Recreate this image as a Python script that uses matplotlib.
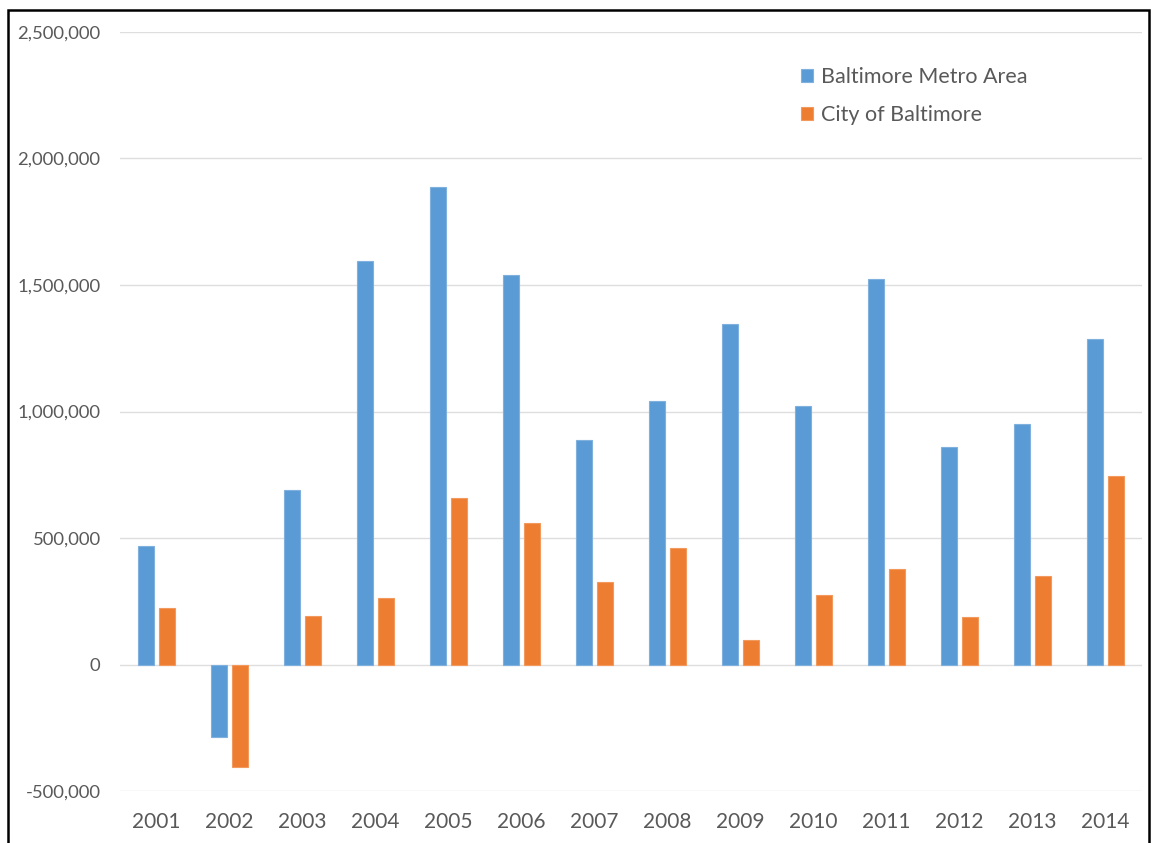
import matplotlib
matplotlib.use("Agg")
import matplotlib.pyplot as plt
import numpy as np
from matplotlib.patches import Rectangle
from matplotlib.ticker import FuncFormatter

years = ["2001", "2002", "2003", "2004", "2005", "2006", "2007",
         "2008", "2009", "2010", "2011", "2012", "2013", "2014"]
metro = [470000, -286000, 691000, 1596000, 1887000, 1540000, 886000,
         1043000, 1347000, 1023000, 1525000, 861000, 952000, 1288000]
city = [225000, -404000, 190000, 261000, 658000, 560000, 328000,
        461000, 95000, 273000, 379000, 186000, 348000, 747000]
series_names = ["Baltimore Metro Area", "City of Baltimore"]
yticks = [-500000, 0, 500000, 1000000, 1500000, 2000000, 2500000]

plt.rcParams['font.family'] = ['Lato', 'DejaVu Sans']
W, H = 1151, 843
fig = plt.figure(figsize=(W / 100, H / 100), dpi=100)
ax = fig.add_axes([120 / W, 1 - 791 / H, (1142 - 120) / W, (791 - 32) / H])

x = np.arange(len(years))
bw = 0.226
off = 0.141
ax.bar(x - off, metro, bw, color="#5B9BD5", edgecolor="#7FB0DE", linewidth=0.8,
       label=series_names[0], zorder=3)
ax.bar(x + off, city, bw, color="#ED7D31", edgecolor="#F29A5E", linewidth=0.8,
       label=series_names[1], zorder=3)

ax.set_xlim(-0.5, len(years) - 0.5)
ax.set_ylim(-500000, 2500000)
ax.set_yticks(yticks)
ax.yaxis.set_major_formatter(FuncFormatter(lambda v, p: f"{int(v):,}"))
ax.set_xticks(x)
ax.set_xticklabels(years)
ax.grid(axis="y", color="#DEDEDE", linewidth=1.0, zorder=0)
for s in ax.spines.values():
    s.set_visible(False)
ax.tick_params(axis="y", length=0, pad=14, labelsize=13.3, labelcolor="#595959")
ax.tick_params(axis="x", length=0, pad=15, labelsize=15, labelcolor="#595959")

leg = ax.legend(loc="upper left", bbox_to_anchor=(801 / W, 1 - 67 / H),
                bbox_transform=fig.transFigure, frameon=False,
                fontsize=15.5, handlelength=0.56, handleheight=0.56,
                handletextpad=0.37, labelspacing=0.83, borderaxespad=0,
                borderpad=0)
for t in leg.get_texts():
    t.set_color("#595959")

fig.add_artist(Rectangle((8 / W, -0.05), (1149 - 8) / W, 1.05 - 10 / H,
                         transform=fig.transFigure, fill=False,
                         edgecolor="black", linewidth=1.8))

fig.savefig("out.png", dpi=100)
